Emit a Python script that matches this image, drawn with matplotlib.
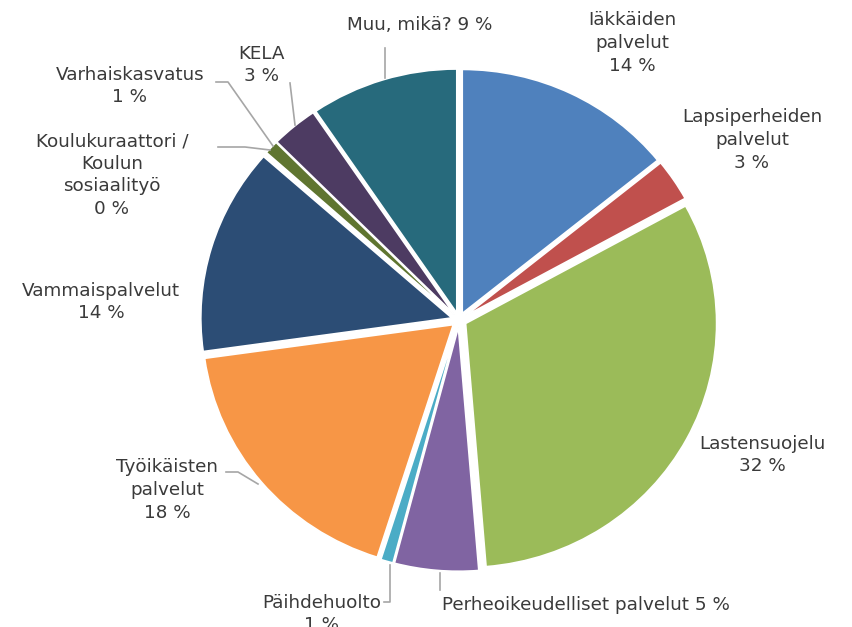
import matplotlib.pyplot as plt

labels = ["Iäkkäiden\npalvelut\n14 %", "Lapsiperheiden\npalvelut\n3 %", "Lastensuojelu\n32 %",
          "Perheoikeudelliset palvelut 5 %", "Päihdehuolto\n1 %", "Työikäisten\npalvelut\n18 %",
          "Vammaispalvelut\n14 %", "Koulukuraattori /\nKoulun\nsosiaalityö\n0 %",
          "Varhaiskasvatus\n1 %", "KELA\n3 %", "Muu, mikä? 9 %"]
values = [14.2, 2.8, 31.7, 5.4, 0.8, 17.9, 13.7, 0.1, 0.9, 3.0, 9.5]
colors = ["#4F81BD", "#C0504D", "#9BBB59", "#8064A2", "#4BACC6", "#F79646",
          "#2C4D75", "#772C2A", "#5F7530", "#4D3B62", "#276A7C"]

# label centres and leader lines, in pixel coords (y from top)
label_pos = [(632, 43), (752, 140), (762, 455), (586, 605), (322, 614), (167, 490),
             (101, 302), (112, 175), (130, 86), (262, 65), (420, 25)]
leaders = [None, None, None, [(440, 573), (440, 590)],
           [(390, 565), (390, 602), (384, 602)],
           [(258, 484), (238, 472), (226, 472)],
           None, [(270, 150), (245, 147), (218, 147)],
           [(273, 146), (228, 82), (216, 82)],
           [(295, 125), (290, 83)], [(385, 78), (385, 48)]]

W, H = 853, 627
k = 251 / 244  # pie in the reference is slightly wider than tall
fig = plt.figure(figsize=(W / 100, H / 100), dpi=100)
ax = fig.add_axes([0, 0, 1, 1])

ax.pie(values, colors=colors, startangle=90, counterclock=False,
       center=(459, (H - 320) * k), radius=251, explode=[7.5] * len(values),
       wedgeprops=dict(edgecolor="white", linewidth=1.2), frame=True)
ax.set_xlim(0, W)
ax.set_ylim(0, H * k)
ax.set_aspect("auto")
ax.axis("off")

txt = "#3A3A3A"
for lab, (x, y) in zip(labels, label_pos):
    ax.text(x, (H - y) * k, lab, ha="center", va="center", fontsize=13.2, color=txt,
            family="DejaVu Sans", linespacing=1.33)

for ld in leaders:
    if ld:
        ax.plot([p[0] for p in ld], [(H - p[1]) * k for p in ld], color="#A6A6A6", lw=1.2)

fig.savefig("out.png", dpi=100)
